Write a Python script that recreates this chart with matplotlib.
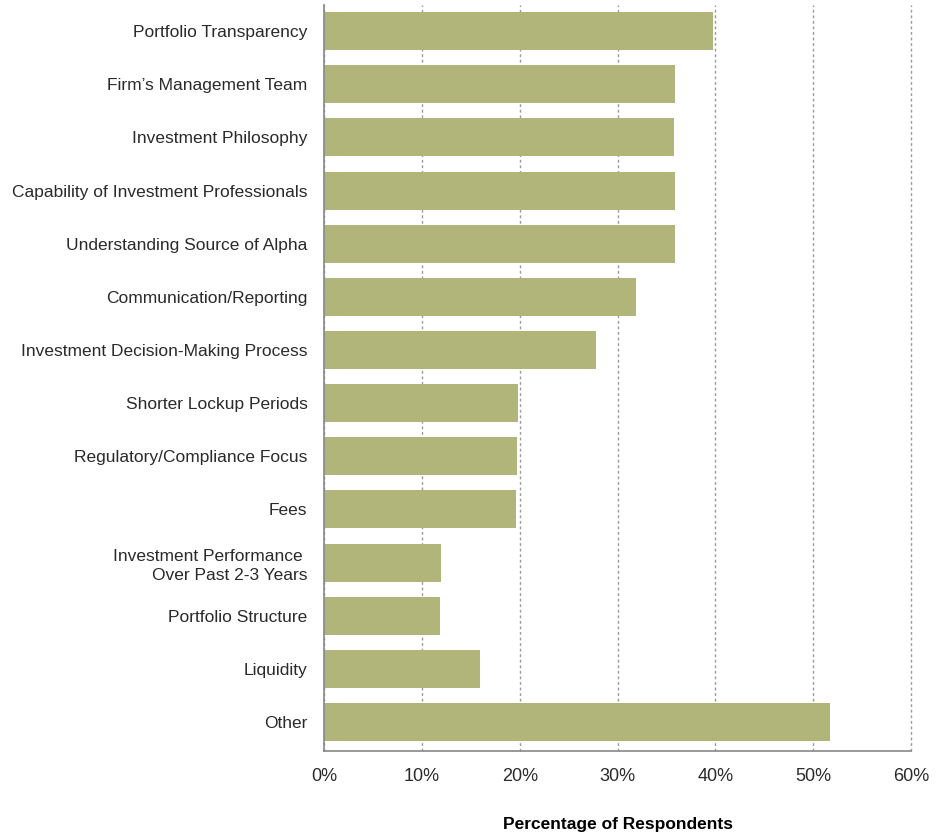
import matplotlib
matplotlib.use('Agg')
import matplotlib.pyplot as plt
from matplotlib.ticker import PercentFormatter

# Survey factors and share of respondents (%)
factors = [
    "Portfolio Transparency",
    "Firm\u2019s Management Team",
    "Investment Philosophy",
    "Capability of Investment Professionals",
    "Understanding Source of Alpha",
    "Communication/Reporting",
    "Investment Decision-Making Process",
    "Shorter Lockup Periods",
    "Regulatory/Compliance Focus",
    "Fees",
    "Investment Performance \nOver Past 2-3 Years",
    "Portfolio Structure",
    "Liquidity",
    "Other",
]
shares = [39.8, 35.9, 35.8, 35.9, 35.9, 31.9, 27.8, 19.8, 19.7, 19.6, 11.9, 11.8, 15.9, 51.7]
x_ticks = [0, 10, 20, 30, 40, 50, 60]

plt.rcParams['font.family'] = ['Liberation Sans', 'DejaVu Sans']

fig = plt.figure(figsize=(9.45, 8.33), dpi=100)
ax = fig.add_axes([0.343, 0.098, 0.621, 0.896])

positions = range(len(factors))
ax.barh(positions, shares, height=0.715, color='#b2b57a', zorder=2)

ax.set_ylim(len(factors) - 0.45, -0.49)
ax.set_xlim(0, 60)
ax.set_yticks(list(positions))
ax.set_yticklabels(factors, fontsize=12.5, color='#2a2a2a', linespacing=1.35)
ax.set_xticks(x_ticks)
ax.xaxis.set_major_formatter(PercentFormatter(decimals=0))
ax.tick_params(axis='x', labelsize=13, colors='#2a2a2a', length=0, pad=12)
ax.tick_params(axis='y', length=0, pad=12)

# dotted vertical grid
ax.grid(axis='x', linestyle=(0, (2, 2)), color='#999999', linewidth=1, zorder=0)
for line in ax.get_xgridlines():
    line.set_clip_on(False)
for side in ['top', 'right']:
    ax.spines[side].set_visible(False)
for side in ['left', 'bottom']:
    ax.spines[side].set_color('#888888')
    ax.spines[side].set_linewidth(1.2)

ax.set_xlabel('Percentage of Respondents', fontsize=12.5, fontweight='bold',
              family=['Liberation Sans Narrow', 'Liberation Sans'], labelpad=23)

fig.savefig('out.png', dpi=100)
